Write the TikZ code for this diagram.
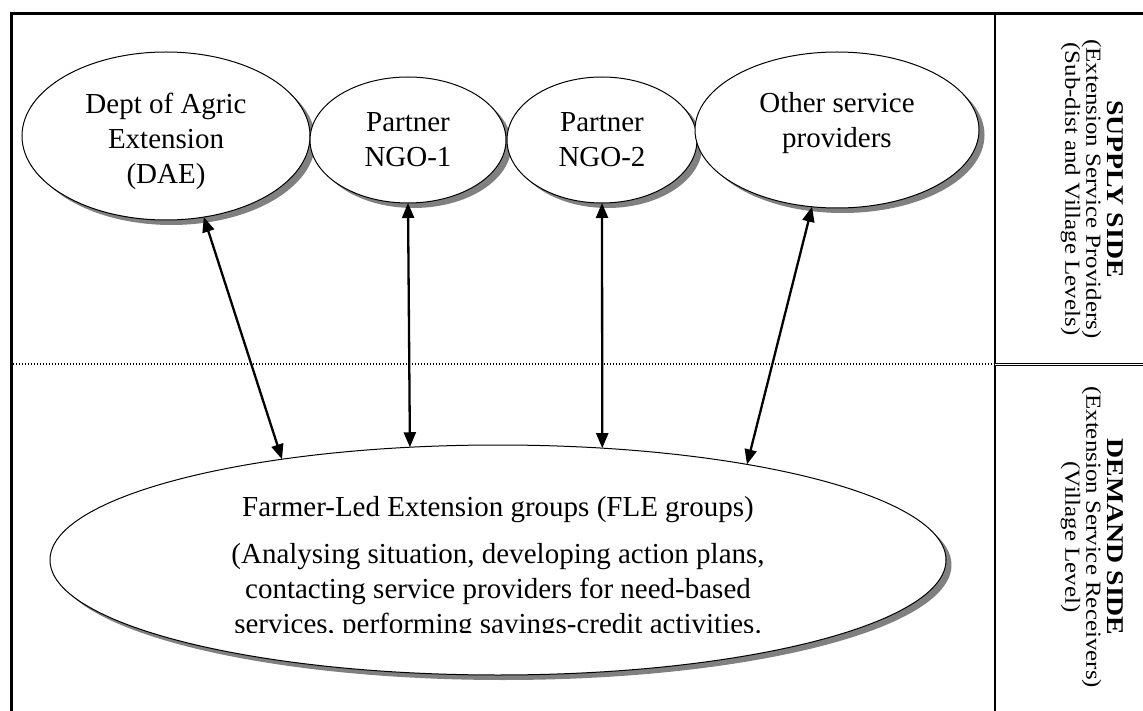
\documentclass[tikz,border=0pt]{standalone}
\usepackage{fontspec}
\setmainfont{Liberation Serif}
\usetikzlibrary{shapes.geometric,arrows.meta,shadows}
\begin{document}
\begin{tikzpicture}[x=1pt,y=-1pt,
  bub/.style={ellipse,draw=black,line width=1pt,fill=white,inner sep=0pt,outer sep=0pt,
     drop shadow={shadow xshift=5.5pt,shadow yshift=-5pt,opacity=1,fill=black!50,draw=none}},
  lbl/.style={font=\fontsize{29}{35}\selectfont,align=center,inner sep=0pt},
  side/.style={font=\fontsize{21.5}{21}\selectfont,align=center,rotate=-90,xscale=1.16,inner sep=0pt},
  link/.style={line width=2.3pt,{Triangle[length=15pt,width=12pt]}-{Triangle[length=15pt,width=12pt]}},
  frame/.style={line width=3pt},
  divider/.style={line width=1.5pt}
]
\useasboundingbox (0,0) rectangle (1143,711);
\fill[white] (0,0) rectangle (1143,711);

% frame
\draw[frame] (9.5,14) -- (1143,14);
\draw[frame] (11,14) -- (11,711);
\draw[divider] (995,14) -- (995,711);
\draw[line width=1.3pt,dash pattern=on 1.5pt off 1.5pt] (12.5,364) -- (995,364);
\draw[line width=0.8pt,double,double distance=1.4pt] (995,364.5) -- (1143,364.5);

% supply-side ellipses
\node[bub,minimum width=288pt,minimum height=168pt] (dae) at (166,136) {};
\node[bub,minimum width=196pt,minimum height=126pt] (ngo1) at (408,140) {};
\node[bub,minimum width=190pt,minimum height=126pt] (ngo2) at (602,140) {};
\node[bub,minimum width=284pt,minimum height=156pt] (other) at (837,130) {};

\node[lbl] (daeT) at (166,141) {Dept of Agric\\Extension\\(DAE)};
\node[lbl] (ngo1T) at (408,140) {Partner\\NGO-1};
\node[lbl] (ngo2T) at (602,140) {Partner\\NGO-2};
\node[lbl] (otherT) at (837,123) {Other service\\providers};

% demand-side ellipse
\node[bub,minimum width=896pt,minimum height=230pt] (fle) at (498,560) {};
\node[lbl] (fleT) at (498,510) {Farmer-Led Extension groups (FLE groups)};
\begin{scope}
\clip (0,0) rectangle (1143,632);
\node[lbl,anchor=north] (fleP) at (498,543) {(Analysing situation, developing action plans,\\contacting service providers for need-based\\services, performing savings-credit activities.};
\end{scope}

% connectors
\draw[link] (dae.-65.4) -- (fle.155.9);
\draw[link] (ngo1.south) -- (fle.128.6);
\draw[link] (ngo2.south) -- (fle.47.1);
\draw[link] (other.-108.2) -- (fle.21.6);

% side labels
\node[side] (supply) at (1092,189) {{\fontsize{24}{23}\selectfont\bfseries SUPPLY SIDE}\\(Extension Service Providers)\\(Sub-dist and Village Levels)};
\node[side] (demand) at (1092,537) {{\fontsize{24}{23}\selectfont\bfseries DEMAND SIDE}\\(Extension Service Receivers)\\(Village Level)};
\end{tikzpicture}
\end{document}
